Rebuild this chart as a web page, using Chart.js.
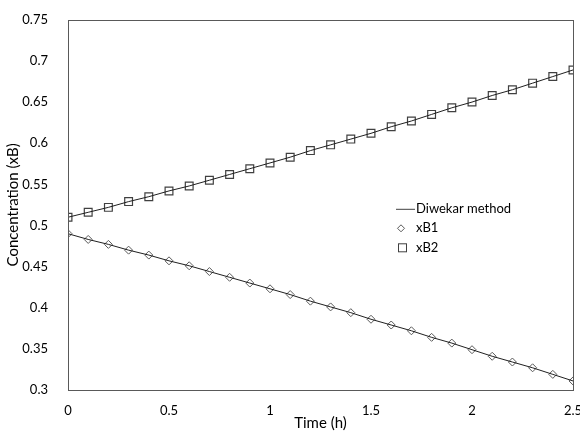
<!DOCTYPE html>
<html>
<head>
<meta charset="utf-8">
<script src="https://cdn.jsdelivr.net/npm/chart.js@4.4.0/dist/chart.umd.min.js"></script>
<style>
  html, body { margin: 0; padding: 0; background: #fff; }
  #wrap { width: 580px; height: 434px; }
</style>
</head>
<body>
<div id="wrap"><canvas id="chart" width="580" height="434"></canvas></div>
<script>
// Donnees
const temps = [0, 0.1, 0.2, 0.3, 0.4, 0.5, 0.6, 0.7, 0.8, 0.9, 1.0, 1.1, 1.2,
    1.3, 1.4, 1.5, 1.6, 1.7, 1.8, 1.9, 2.0, 2.1, 2.2, 2.3, 2.4, 2.5];
const xB1 = [0.490, 0.483, 0.477, 0.470, 0.464, 0.457, 0.451, 0.444, 0.437, 0.430,
    0.423, 0.416, 0.408, 0.401, 0.394, 0.386, 0.379, 0.372, 0.364, 0.357,
    0.349, 0.341, 0.334, 0.327, 0.319, 0.311];
const xB2 = [0.510, 0.516, 0.522, 0.529, 0.535, 0.542, 0.548, 0.555, 0.562, 0.569,
    0.576, 0.583, 0.591, 0.598, 0.605, 0.612, 0.620, 0.627, 0.635, 0.643,
    0.650, 0.658, 0.665, 0.673, 0.681, 0.689];
const xTicks = [0, 0.5, 1, 1.5, 2, 2.5];
const yTicks = [0.3, 0.35, 0.4, 0.45, 0.5, 0.55, 0.6, 0.65, 0.7, 0.75];
const legendLabels = ['Diwekar method', 'xB1', 'xB2'];

const police = 'Lato, "Open Sans", sans-serif';
const gris = '#595959';

function points(ys) {
    return temps.map((t, i) => ({ x: t, y: ys[i] }));
}

// Cadre complet + legende dans la zone du graphique
const cadreLegende = {
    id: 'cadreLegende',
    afterDraw(chart) {
        const ctx = chart.ctx;
        const a = chart.chartArea;
        ctx.save();
        ctx.strokeStyle = gris;
        ctx.lineWidth = 1;
        ctx.strokeRect(Math.round(a.left) + 0.5, Math.round(a.top) + 0.5,
            Math.round(a.right - a.left), Math.round(a.bottom - a.top));

        const lx = a.left + 328;
        const ly = a.top + 189;
        ctx.font = '13px ' + police;
        ctx.textBaseline = 'middle';
        // ligne
        ctx.strokeStyle = '#404040';
        ctx.beginPath();
        ctx.moveTo(lx, ly + 0.5);
        ctx.lineTo(lx + 19, ly + 0.5);
        ctx.stroke();
        ctx.fillStyle = '#000';
        ctx.fillText(legendLabels[0], lx + 20, ly);
        // losange
        const y1 = ly + 19.5;
        ctx.strokeStyle = gris;
        ctx.fillStyle = '#fff';
        ctx.beginPath();
        ctx.moveTo(lx + 5, y1 - 3.5);
        ctx.lineTo(lx + 8.5, y1);
        ctx.lineTo(lx + 5, y1 + 3.5);
        ctx.lineTo(lx + 1.5, y1);
        ctx.closePath();
        ctx.fill();
        ctx.stroke();
        ctx.fillStyle = '#000';
        ctx.fillText(legendLabels[1], lx + 20, y1);
        // carre
        const y2 = ly + 39;
        ctx.strokeStyle = '#404040';
        ctx.strokeRect(lx + 2.5, y2 - 4, 8, 8);
        ctx.fillText(legendLabels[2], lx + 20, y2);
        ctx.restore();
    }
};

new Chart(document.getElementById('chart').getContext('2d'), {
    type: 'scatter',
    data: {
        datasets: [
            {
                label: 'Diwekar method',
                data: points(xB1),
                showLine: true,
                borderColor: '#202020',
                borderWidth: 1,
                pointRadius: 0
            },
            {
                label: 'Diwekar method',
                data: points(xB2),
                showLine: true,
                borderColor: '#202020',
                borderWidth: 1,
                pointRadius: 0
            },
            {
                label: 'xB1',
                data: points(xB1),
                pointStyle: 'rectRot',
                pointRadius: 4,
                borderWidth: 1,
                borderColor: gris,
                backgroundColor: '#fff'
            },
            {
                label: 'xB2',
                data: points(xB2),
                pointStyle: 'rect',
                pointRadius: 5.5,
                borderWidth: 1.2,
                borderColor: '#404040',
                backgroundColor: 'rgba(255,255,255,0)'
            }
        ]
    },
    options: {
        responsive: false,
        animation: false,
        layout: { padding: { top: 8, right: 0, left: 0, bottom: 0 } },
        plugins: {
            legend: { display: false },
            tooltip: { enabled: false }
        },
        scales: {
            x: {
                type: 'linear',
                min: 0,
                max: 2.5,
                afterBuildTicks: axis => { axis.ticks = xTicks.map(v => ({ value: v })); },
                afterFit: axis => { axis.paddingRight = 7; axis.height = 44; },
                grid: { display: false },
                border: { display: false },
                ticks: {
                    color: '#000',
                    font: { family: police, size: 13 },
                    padding: 5,
                    maxRotation: 0,
                    callback: v => String(v)
                },
                title: {
                    display: true,
                    text: 'Time (h)',
                    color: '#000',
                    font: { family: police, size: 15 },
                    padding: { top: 0, bottom: 2 }
                }
            },
            y: {
                min: 0.3,
                max: 0.75,
                afterBuildTicks: axis => { axis.ticks = yTicks.map(v => ({ value: v })); },
                afterFit: axis => { axis.width = 68; },
                grid: { display: false },
                border: { display: false },
                ticks: {
                    color: '#000',
                    font: { family: police, size: 13 },
                    padding: 12,
                    callback: v => String(Math.round(v * 100) / 100)
                },
                title: {
                    display: true,
                    text: 'Concentration (xB)',
                    color: '#000',
                    font: { family: police, size: 15 },
                    padding: { top: 4, bottom: 2 }
                }
            }
        }
    },
    plugins: [cadreLegende]
});
</script>
</body>
</html>
